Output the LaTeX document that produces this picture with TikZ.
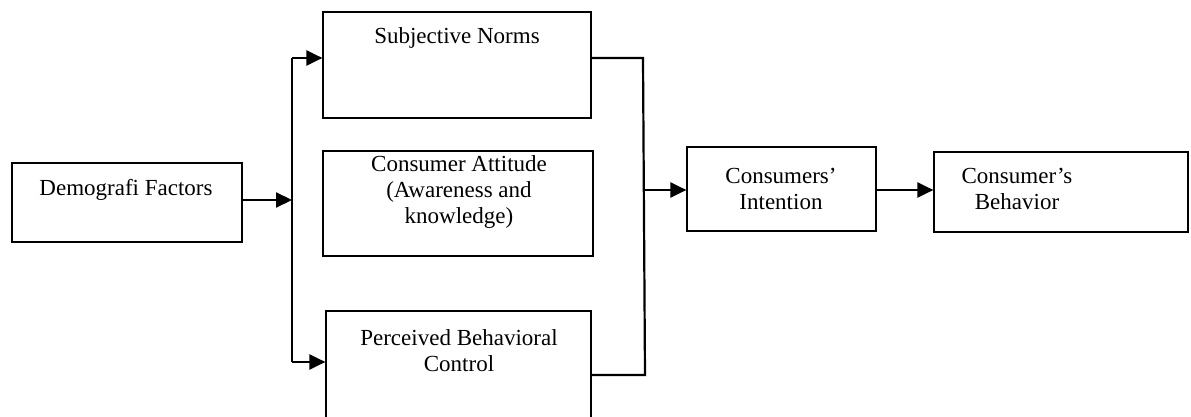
\documentclass[tikz,border=0pt]{standalone}
\usepackage{fontspec}
\setmainfont{Liberation Serif}
\usetikzlibrary{arrows.meta}
\begin{document}
\begin{tikzpicture}[x=0.5pt,y=-0.5pt,>={Triangle[length=8pt,width=7.5pt]},
		box/.style={draw,line width=0.6pt,inner sep=0pt},
		txt/.style={align=center,inner sep=0pt,font=\fontsize{11.5}{13}\selectfont},
		wire/.style={line width=1.1pt}]
	\path[use as bounding box] (0,0) rectangle (1191,417);
	\clip (0,0) rectangle (1191,417);
	\node[box,minimum width=115pt,minimum height=39.5pt] (demo) at (127,202.5) {};
	\node[box,minimum width=134pt,minimum height=53pt] (sn) at (457,65) {};
	\node[box,minimum width=135pt,minimum height=52.5pt] (ca) at (458,203.5) {};
	\node[box,minimum width=132.5pt,minimum height=60pt] (pbc) at (458.5,371) {};
	\node[box,minimum width=94.5pt,minimum height=42pt] (ci) at (781.5,189) {};
	\node[box,minimum width=127pt,minimum height=40pt] (cb) at (1061,192) {};
	\node[txt] (demo-t) at (126,190) {Demografi Factors};
	\node[txt] (sn-t) at (457,38) {Subjective Norms};
	\node[txt] (ca-t) at (459,192) {Consumer Attitude\\(Awareness and\\knowledge)};
	\node[txt] (pbc-t) at (459,351) {Perceived Behavioral\\Control};
	\node[txt] (ci-t) at (781,189) {Consumers’\\Intention};
	\node[txt] (cb-t) at (1017,189) {Consumer’s\\Behavior};
	\coordinate (split) at (292,200);
	\coordinate (bus-top) at (292,58);
	\coordinate (bus-bot) at (292,362);
	\coordinate (join-top) at (643,58);
	\coordinate (join-bot) at (645,375);
	\coordinate (join-mid) at (643,190);
	\draw[wire,->] (demo.east |- split) -- (split);
	\draw[wire] (bus-top) -- (bus-bot);
	\draw[wire,->] (bus-top) -- (sn.west |- bus-top);
	\draw[wire,->] (bus-bot) -- (pbc.west |- bus-bot);
	\draw[wire] (sn.east |- join-top) -- (join-top) -- (join-bot) -- (pbc.east |- join-bot);
	\draw[wire,->] (join-mid) -- (ci.west |- join-mid);
	\draw[wire,->] (ci.east |- join-mid) -- (cb.west |- join-mid);
\end{tikzpicture}
\end{document}
